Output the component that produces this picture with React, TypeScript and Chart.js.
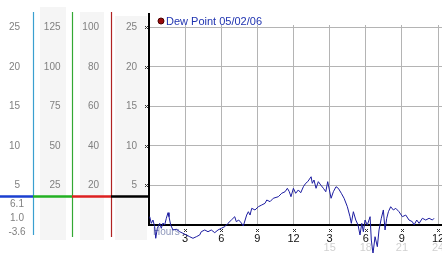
import { useEffect, useRef } from 'react';
import { Chart, registerables } from 'chart.js';

Chart.register(...registerables);

const seriesLabel = 'Dew Point 05/02/06';

const hours = [
  0.06, 0.19, 0.33, 0.47, 0.56, 0.69, 0.89, 1.02, 1.16, 1.3, 1.44, 1.58, 1.66, 1.8, 1.99, 2.27, 2.55, 2.82,
  3.1, 3.38, 3.65, 3.93, 4.21, 4.34, 4.63, 4.9, 5.17, 5.46, 5.73, 6.0, 6.29, 6.56, 6.84, 7.12, 7.25, 7.45,
  7.67, 7.83, 8.11, 8.25, 8.39, 8.53, 8.8, 9.08, 9.36, 9.63, 9.78, 10.05, 10.32, 10.74, 11.02, 11.3, 11.49,
  11.65, 11.79, 11.99, 12.18, 12.4, 12.6, 12.82, 13.01, 13.18, 13.46, 13.56, 13.7, 13.87, 14.06, 14.26,
  14.48, 14.68, 14.84, 14.98, 15.12, 15.31, 15.53, 15.72, 15.97, 16.2, 16.47, 16.69, 16.8, 16.97, 17.17,
  17.36, 17.52, 17.67, 17.8, 17.94, 18.13, 18.36, 18.46, 18.6, 18.77, 18.96, 19.1, 19.29, 19.46, 19.6,
  19.74, 19.88, 20.07, 20.29, 20.49, 20.76, 21.04, 21.32, 21.59, 21.87, 22.01, 22.23, 22.43, 22.7, 22.98,
  23.26, 23.53, 23.67,
];

const dewPoint = [
  1.05, 0.21, 0.63, -0.21, -1.68, -0.42, 0.21, -0.42, 0.25, 0.0, 0.85, 1.56, 1.05, 0.0, -0.63, -0.54, -0.85,
  -1.05, -1.26, -1.48, -1.68, -1.48, -1.26, -0.85, -0.63, -0.85, -0.63, -0.97, -0.63, -0.42, -0.21, 0.21,
  0.63, 1.05, 0.42, 0.63, 0.25, -0.13, 1.26, 1.68, 1.26, 2.11, 1.9, 2.31, 2.53, 2.74, 3.16, 2.95, 3.38, 3.58,
  4.01, 4.21, 4.64, 4.21, 3.58, 4.64, 4.01, 4.43, 4.08, 4.84, 5.27, 5.48, 6.1, 5.27, 5.69, 4.64, 5.48, 5.06,
  4.64, 4.21, 5.48, 4.43, 3.38, 4.21, 4.84, 4.64, 4.01, 3.38, 2.31, 1.05, 0.21, 1.68, 0.63, 0.0, -1.26, 0.21,
  -0.85, 0.63, 0.0, 1.05, -1.9, -3.6, -1.48, -2.74, -0.63, 0.85, 1.9, -0.63, 0.85, 1.68, 2.31, 1.9, 2.11,
  1.68, 1.05, 1.26, 0.63, 0.42, 0.0, 0.63, 0.21, 0.85, 0.63, 0.85, 0.63, 0.85,
];

const xGridTicks = [0, 3, 6, 9, 12, 15, 18, 21, 24];
const x24Ticks = [15, 18, 21, 24];
const tempTicks = [5, 10, 15, 20, 25];
const col2Ticks = [25, 50, 75, 100, 125];
const col3Ticks = [20, 40, 60, 80, 100];
const summaryLabels = ['6.1', '1.0', '-3.6'];
const markerValue = 3.6;
const yMax = 25.29;
const xMax = 24.33;

const FONT = "'Liberation Sans', Arial, sans-serif";

const decor = {
  id: 'decor',
  beforeDraw(chart: any) {
    const ctx = chart.ctx;
    const s = chart.scales;
    ctx.save();
    ctx.fillStyle = '#f5f5f5';
    ctx.fillRect(s.y2.left + 7, 7, s.y2.right - s.y2.left - 13, 233);
    ctx.fillRect(s.y3.left + 8, 12, s.y3.right - s.y3.left - 15, 228);
    ctx.fillRect(s.y.left + 4, 16, s.y.right - s.y.left - 6, 224);
    ctx.restore();
  },
  beforeDatasetsDraw(chart: any) {
    const ctx = chart.ctx;
    const s = chart.scales;
    const area = chart.chartArea;
    ctx.save();
    ctx.font = `10px ${FONT}`;
    ctx.fillStyle = '#8e97bb';
    ctx.textAlign = 'left';
    ctx.textBaseline = 'middle';
    ctx.fillText('Hours', area.left + 4, area.bottom + 7);
    const mark = (cx: number, cy: number) => {
      const px = Math.round(cx);
      const py = Math.round(cy);
      ctx.fillStyle = '#333';
      ctx.fillRect(px - 1, py - 1, 1, 1);
      ctx.fillRect(px + 1, py - 1, 1, 1);
      ctx.fillRect(px, py, 1, 1);
      ctx.fillRect(px - 1, py + 1, 1, 1);
      ctx.fillRect(px + 1, py + 1, 1, 1);
    };
    xGridTicks.forEach((v) => {
      if (v === 0) return;
      mark(s.x.getPixelForValue(v), area.bottom + 5);
    });
    tempTicks.forEach((v) => {
      mark(area.left - 3, s.y.getPixelForValue(v));
    });
    ctx.restore();
  },
  afterDraw(chart: any) {
    const ctx = chart.ctx;
    const s = chart.scales;
    const area = chart.chartArea;
    ctx.save();
    const vline = (x: number, y0: number, y1: number, color: string, w: number) => {
      ctx.strokeStyle = color;
      ctx.lineWidth = w;
      ctx.beginPath();
      ctx.moveTo(x, y0);
      ctx.lineTo(x, y1);
      ctx.stroke();
    };
    vline(s.y1.right + 0.5, 12, 235, '#3a9fd0', 1.2);
    vline(s.y2.right + 0.5, 12, 237, '#33a833', 1.2);
    vline(s.y3.right + 0.5, 12, 237, '#b02222', 1.2);
    vline(s.y.right, 13, area.top + 1, '#000', 2);
    const by = s.y.getPixelForValue(markerValue);
    const hseg = (x0: number, x1: number, color: string) => {
      ctx.strokeStyle = color;
      ctx.lineWidth = 2.5;
      ctx.beginPath();
      ctx.moveTo(x0, by);
      ctx.lineTo(x1, by);
      ctx.stroke();
    };
    hseg(0, s.y1.right, '#1a3fd0');
    hseg(s.y1.right, s.y2.right, '#22b022');
    hseg(s.y2.right, s.y3.right, '#dd2020');
    hseg(s.y3.right, s.y.right, '#000');
    ctx.font = `10px ${FONT}`;
    ctx.fillStyle = '#808080';
    ctx.textAlign = 'center';
    ctx.textBaseline = 'middle';
    const cx = (s.y1.left + s.y1.right) / 2 + 0.5;
    summaryLabels.forEach((t, i) => {
      ctx.fillText(t, cx, by + 8 + i * 13.7);
    });
    const lx = area.left + 12;
    const ly = 21;
    ctx.beginPath();
    ctx.arc(lx, ly, 3, 0, Math.PI * 2);
    ctx.fillStyle = '#9a0a0a';
    ctx.fill();
    ctx.strokeStyle = '#4a0000';
    ctx.lineWidth = 1;
    ctx.stroke();
    ctx.font = `11px ${FONT}`;
    ctx.fillStyle = '#1f33b0';
    ctx.textAlign = 'left';
    ctx.textBaseline = 'alphabetic';
    ctx.fillText(chart.data.datasets[0].label, lx + 5, 25);
    ctx.restore();
  },
};

export default function App() {
  const ref = useRef<HTMLCanvasElement | null>(null);

  useEffect(() => {
    if (!ref.current) return;
    const tickFont = { family: FONT, size: 10 };
    const chart = new Chart(ref.current, {
      type: 'line',
      data: {
        datasets: [
          {
            label: seriesLabel,
            data: hours.map((h, i) => ({ x: h, y: dewPoint[i] })),
            borderColor: '#1c1ca0',
            borderWidth: 1,
            pointRadius: 0,
            tension: 0,
            clip: false as any,
            xAxisID: 'x',
            yAxisID: 'y',
          },
        ],
      },
      options: {
        responsive: false,
        animation: false,
        devicePixelRatio: 1,
        layout: { padding: { top: 25, left: 0, right: 0, bottom: 0 } },
        plugins: { legend: { display: false }, tooltip: { enabled: false } },
        scales: {
          x: {
            type: 'linear',
            position: 'bottom',
            weight: 0,
            min: 0,
            max: xMax,
            afterBuildTicks: (sc: any) => {
              sc.ticks = xGridTicks.map((v) => ({ value: v }));
            },
            afterFit: (sc: any) => {
              sc.height = 17;
              sc.paddingLeft = 0;
              sc.paddingRight = 0;
            },
            grid: { color: '#b4b4b4', lineWidth: 1, drawTicks: false },
            border: { color: '#000', width: 2 },
            ticks: {
              padding: 7.5,
              color: '#111',
              font: { family: FONT, size: 11 },
              maxRotation: 0,
              autoSkip: false,
              callback: (v: any) => (v === 0 ? '' : String(((Number(v) - 1) % 12) + 1)),
            },
          },
          x2: {
            type: 'linear',
            position: 'bottom',
            weight: 1,
            min: 0,
            max: xMax,
            afterBuildTicks: (sc: any) => {
              sc.ticks = x24Ticks.map((v) => ({ value: v }));
            },
            afterFit: (sc: any) => {
              sc.height = 11;
              sc.paddingLeft = 0;
              sc.paddingRight = 0;
            },
            grid: { display: false, drawTicks: false },
            border: { display: false },
            ticks: {
              padding: -0.5,
              color: '#d0d0d0',
              font: { family: FONT, size: 11 },
              maxRotation: 0,
              autoSkip: false,
              callback: (v: any) => String(v),
            },
          },
          y: {
            type: 'linear',
            position: 'left',
            weight: 0,
            min: 0,
            max: yMax,
            afterBuildTicks: (sc: any) => {
              sc.ticks = tempTicks.map((v) => ({ value: v }));
            },
            afterFit: (sc: any) => {
              sc.width = 38;
              sc.paddingTop = 0;
              sc.paddingBottom = 0;
            },
            grid: { color: '#b4b4b4', lineWidth: 1, drawTicks: false },
            border: { color: '#000', width: 2 },
            ticks: { padding: 12, color: '#808080', font: tickFont, crossAlign: 'near' },
          },
          y3: {
            type: 'linear',
            position: 'left',
            weight: 1,
            min: 0,
            max: yMax * 4,
            afterBuildTicks: (sc: any) => {
              sc.ticks = col3Ticks.map((v) => ({ value: v }));
            },
            afterFit: (sc: any) => {
              sc.width = 39;
              sc.paddingTop = 0;
              sc.paddingBottom = 0;
            },
            grid: { display: false, drawTicks: false },
            border: { display: false },
            ticks: { padding: 12, color: '#808080', font: tickFont, crossAlign: 'near' },
          },
          y2: {
            type: 'linear',
            position: 'left',
            weight: 2,
            min: 0,
            max: yMax * 5,
            afterBuildTicks: (sc: any) => {
              sc.ticks = col2Ticks.map((v) => ({ value: v }));
            },
            afterFit: (sc: any) => {
              sc.width = 39;
              sc.paddingTop = 0;
              sc.paddingBottom = 0;
            },
            grid: { display: false, drawTicks: false },
            border: { display: false },
            ticks: { padding: 11.5, color: '#808080', font: tickFont, crossAlign: 'near' },
          },
          y1: {
            type: 'linear',
            position: 'left',
            weight: 3,
            min: 0,
            max: yMax,
            afterBuildTicks: (sc: any) => {
              sc.ticks = tempTicks.map((v) => ({ value: v }));
            },
            afterFit: (sc: any) => {
              sc.width = 33;
              sc.paddingTop = 0;
              sc.paddingBottom = 0;
            },
            grid: { display: false, drawTicks: false },
            border: { display: false },
            ticks: { padding: 13, color: '#808080', font: tickFont, crossAlign: 'near' },
          },
        },
      } as any,
      plugins: [decor],
    });
    return () => chart.destroy();
  }, []);

  return (
    <div style={{ position: 'absolute', left: 0, top: 0, width: 442, height: 253, background: '#fff' }}>
      <canvas ref={ref} width={442} height={253} style={{ display: 'block', width: 442, height: 253 }} />
    </div>
  );
}
